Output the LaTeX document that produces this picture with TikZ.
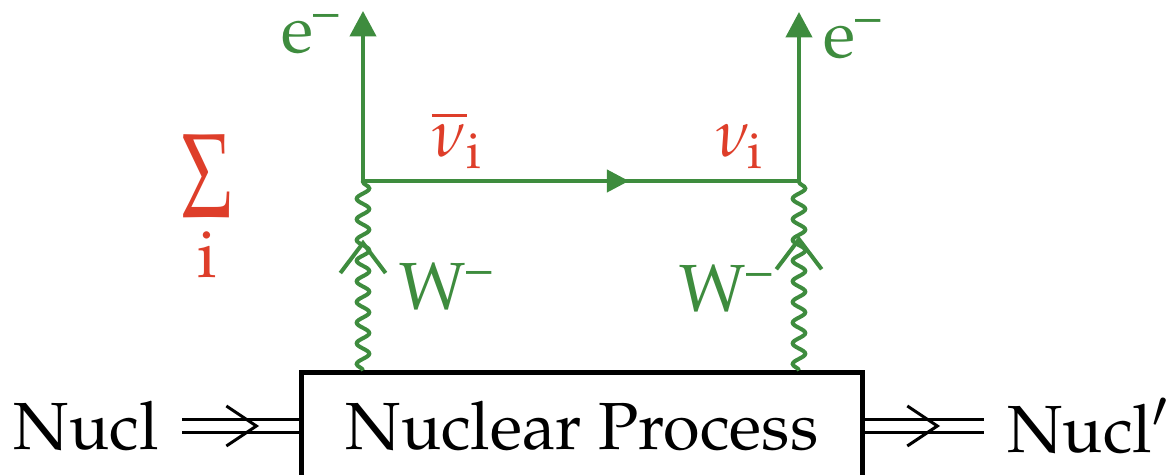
\documentclass[tikz,border=0pt]{standalone}
\usepackage[T1]{fontenc}
\usepackage{mathpazo}
\usepackage{tikz}
\usetikzlibrary{arrows.meta, positioning, calc, decorations.pathmorphing, decorations.markings}
\definecolor{fgreen}{RGB}{62,140,62}
\definecolor{fred}{RGB}{222,62,42}
\newcommand{\supminus}{\textsuperscript{--}}
\tikzset{
  fermion/.style={draw=fgreen, line width=0.6pt},
  electron/.style={fermion, -{Triangle[length=3.8pt, width=3.9pt]}},
  boson/.style={draw=fgreen, line width=0.6pt, decorate,
                decoration={snake, segment length=3.1pt, amplitude=0.95pt}},
  flowmark/.style={postaction={decorate}, decoration={markings,
                mark=at position #1 with {\arrow[fgreen]{Triangle[length=3.3pt, width=3.3pt]}}}},
  barbmark/.style={postaction={decorate}, decoration={markings,
                mark=at position #1 with {\arrow[fgreen, line width=0.6pt]{Straight Barb[length=4.5pt, width=6.8pt]}}}},
  nucmark/.style={postaction={decorate}, decoration={markings,
                mark=at position #1 with {\arrow[black, line width=0.45pt]{Straight Barb[length=4.5pt, width=6pt]}}}},
  nucline/.style={draw=black, double, double distance=1.6pt, line width=0.45pt},
  procbox/.style={rectangle, draw=black, line width=0.75pt, minimum width=84.2pt,
                  minimum height=15.9pt, inner sep=0pt},
  nuclabel/.style={font=\normalsize, text=black},
  glabel/.style={text=fgreen, inner sep=1pt},
  rlabel/.style={text=fred, inner sep=1pt},
}
\begin{document}
\begin{tikzpicture}[x=0.15pt, y=-0.15pt]
  \useasboundingbox (0,0) rectangle (1172,475);

  % nuclear line
  \node[procbox] (proc) at (582,426) {Nuclear Process};
  \node[nuclabel, anchor=east] (nucl) at (182,426) {Nucl};
  \node[nuclabel, anchor=west] (nuclp) at (984,426) {Nucl$'$};
  \draw[nucline] (nucl.east) -- (nucl.east -| proc.west);
  \path[nucmark=0.66] (nucl.east) -- (nucl.east -| proc.west);
  \draw[nucline] (proc.east |- nuclp.west) -- (nuclp.west);
  \path[nucmark=0.63] (proc.east |- nuclp.west) -- (nuclp.west);

  % vertices
  \coordinate (vl) at (363,181);
  \coordinate (vr) at (799,181);
  \coordinate (el) at (363,11);
  \coordinate (er) at (799,12);
  \coordinate (wl) at (vl |- proc.north);
  \coordinate (wr) at (vr |- proc.north);

  % W bosons
  \draw[boson] (wl) -- (vl);
  \draw[boson] (wr) -- (vr);
  \path[barbmark=0.69] (wl) -- (vl);
  \path[barbmark=0.71] (wr) -- (vr);

  % leptons
  \draw[electron] (vl) -- (el);
  \draw[electron] (vr) -- (er);
  \draw[fermion, flowmark=0.61] (vl) -- (vr);

  % labels
  \node[glabel, anchor=base east] (ell) at (350,53) {e\supminus};
  \node[glabel, anchor=base west] (elr) at (816,58) {e\supminus};
  \node[rlabel, anchor=base west] (nubar) at (424,157) {$\overline{\nu}_{\mathrm{i}}$};
  \node[rlabel, anchor=base west] (nu) at (708,157) {$\nu_{\mathrm{i}}$};
  \node[glabel, anchor=base west] (wml) at (392,310) {W\supminus};
  \node[glabel, anchor=base west] (wmr) at (672,312) {W\supminus};
  \node[rlabel, inner sep=0pt] (sumsym) at (207,177) {\resizebox*{7.7pt}{12.5pt}{$\Sigma$}};
  \node[rlabel, anchor=base] (sumidx) at (207,278) {i};
\end{tikzpicture}
\end{document}
